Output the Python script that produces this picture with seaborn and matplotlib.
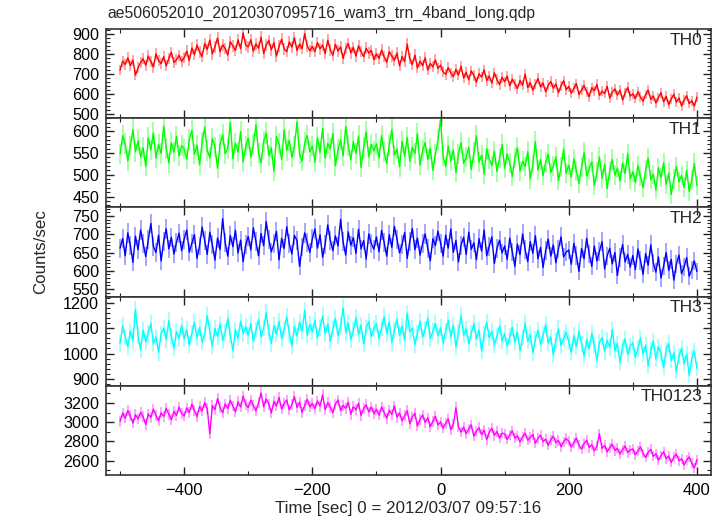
import numpy as np
import matplotlib
matplotlib.use("Agg")
import matplotlib.pyplot as plt
import seaborn as sns
from matplotlib.ticker import MultipleLocator

# light curves, 4 s samples from -500 s to +400 s
th0 = [720, 765, 748, 781, 742, 770, 695, 731, 758, 776, 744, 790, 762, 735, 801, 768, 752, 787, 741, 779, 809, 758, 772, 794, 763,
       782, 815, 768, 830, 797, 845, 810, 788, 852, 823, 870, 801, 836, 880, 812, 846, 828, 795, 862, 839, 818, 871, 827, 905, 844,
       836, 872, 815, 851, 829, 884, 803, 845, 868, 821, 857, 790, 839, 874, 826, 812, 860, 835, 881, 818, 849, 827, 902, 840, 816,
       838, 812, 857, 826, 845, 803, 869, 821, 794, 848, 815, 836, 778, 827, 852, 806, 833, 790, 841, 812, 787, 829, 805, 818, 772,
       801, 778, 820, 786, 759, 812, 790, 768, 805, 741, 787, 762, 850, 776, 748, 795, 731, 764, 742, 781, 720, 753, 736, 771, 728,
       745, 712, 698, 733, 706, 688, 724, 695, 740, 681, 709, 672, 716, 693, 660, 702, 685, 721, 668, 690, 655, 706, 673, 648, 684,
       662, 690, 641, 675, 652, 628, 668, 645, 700, 633, 657, 620, 649, 678, 636, 655, 612, 644, 663, 630, 651, 608, 640, 667, 622,
       638, 605, 629, 652, 598, 621, 643, 611, 587, 632, 617, 648, 594, 615, 603, 639, 580, 610, 626, 596, 620, 571, 607, 633, 590,
       601, 578, 612, 585, 565, 598, 620, 574, 591, 556, 583, 607, 562, 589, 548, 576, 599, 560, 581, 541, 570, 592, 553, 567, 540, 585]
th1 = [548, 590, 571, 532, 566, 604, 553, 578, 541, 562, 519, 585, 557, 596, 538, 570, 549, 612, 561, 527, 574, 552, 588, 543, 567,
       559, 536, 581, 602, 547, 568, 523, 575, 610, 556, 539, 583, 564, 515, 570, 592, 548, 561, 620, 537, 573, 552, 599, 530, 566,
       584, 541, 569, 615, 550, 527, 577, 596, 544, 562, 508, 588, 571, 535, 603, 556, 579, 540, 565, 622, 548, 531, 574, 590, 553,
       566, 529, 585, 551, 607, 538, 572, 560, 595, 521, 558, 580, 543, 611, 567, 534, 576, 549, 589, 517, 563, 598, 541, 570, 555,
       571, 538, 590, 552, 526, 568, 604, 545, 559, 518, 577, 542, 586, 531, 563, 549, 595, 522, 556, 574, 535, 561, 510, 547, 580,
       628, 543, 519, 566, 532, 557, 505, 548, 574, 526, 541, 563, 512, 551, 590, 529, 545, 502, 560, 536, 521, 554, 507, 538, 569,
       515, 548, 527, 496, 539, 562, 508, 531, 519, 553, 490, 524, 576, 511, 535, 498, 529, 547, 505, 520, 541, 486, 517, 559, 503,
       522, 494, 537, 509, 480, 518, 551, 497, 513, 530, 476, 506, 541, 492, 524, 468, 510, 535, 499, 515, 486, 527, 503, 548, 490,
       507, 482, 521, 496, 470, 512, 538, 489, 501, 465, 516, 493, 527, 478, 504, 455, 490, 519, 484, 498, 471, 510, 462, 488, 526, 475]
th2 = [662, 689, 641, 704, 670, 623, 695, 658, 712, 676, 639, 685, 730, 667, 650, 698, 627, 681, 715, 660, 692, 646, 678, 703, 655,
       687, 712, 651, 676, 699, 634, 668, 720, 683, 645, 706, 671, 629, 690, 658, 743, 677, 640, 697, 666, 711, 649, 684, 625, 672,
       694, 657, 718, 680, 641, 702, 669, 735, 686, 652, 675, 708, 630, 689, 661, 721, 674, 646, 697, 683, 612, 665, 704, 678, 650,
       688, 715, 662, 699, 637, 673, 726, 684, 655, 696, 668, 741, 679, 643, 707, 670, 691, 648, 714, 660, 683, 632, 701, 675, 659,
       693, 652, 711, 678, 640, 699, 664, 722, 687, 649, 672, 705, 634, 681, 716, 658, 690, 643, 674, 701, 662, 627, 688, 669, 709,
       676, 640, 698, 662, 715, 651, 683, 624, 670, 692, 645, 706, 659, 677, 630, 688, 654, 712, 641, 667, 693, 620, 661, 684, 649,
       668, 631, 690, 652, 612, 673, 644, 701, 659, 625, 680, 648, 696, 633, 664, 609, 655, 687, 640, 671, 622, 660, 693, 638, 651,
       657, 618, 675, 642, 598, 661, 633, 689, 646, 612, 668, 627, 653, 680, 605, 641, 662, 619, 650, 587, 636, 672, 624, 645, 610,
       642, 603, 660, 628, 590, 647, 615, 671, 622, 596, 638, 580, 612, 650, 601, 631, 574, 618, 643, 592, 610, 636, 585, 603, 627, 598]
th3 = [1040, 1110, 1065, 1028, 1089, 1052, 1175, 1071, 1015, 1093, 1047, 1082, 1120, 1038, 1066, 1004, 1078, 1101, 1055, 1130, 1069, 1021, 1087, 1060, 1112,
       1058, 1096, 1034, 1081, 1125, 1062, 1103, 1045, 1077, 1150, 1088, 1029, 1099, 1068, 1117, 1052, 1084, 1140, 1073, 1011, 1094, 1061, 1128, 1079, 1106,
       1072, 1119, 1048, 1093, 1135, 1066, 1101, 1162, 1085, 1040, 1111, 1077, 1128, 1058, 1096, 1145, 1082, 1030, 1107, 1069, 1124, 1090, 1170, 1074, 1115,
       1086, 1132, 1063, 1104, 1150, 1078, 1117, 1049, 1098, 1139, 1070, 1108, 1181, 1083, 1121, 1055, 1094, 1143, 1076, 1112, 1038, 1101, 1127, 1068, 1099,
       1118, 1060, 1103, 1146, 1079, 1125, 1044, 1092, 1137, 1071, 1109, 1052, 1160, 1086, 1100, 1035, 1081, 1128, 1065, 1097, 1140, 1058, 1088, 1119, 1070,
       1102, 1043, 1090, 1131, 1066, 1112, 1027, 1084, 1150, 1073, 1097, 1038, 1081, 1118, 1057, 1093, 1010, 1076, 1125, 1062, 1088, 1034, 1070, 1109, 1051,
       1079, 1028, 1068, 1104, 1045, 1087, 1011, 1062, 1120, 1049, 1075, 1003, 1058, 1093, 1037, 1071, 1115, 1042, 1066, 995, 1054, 1098, 1031, 1060, 1085,
       1047, 1005, 1071, 1028, 1089, 1038, 990, 1056, 1019, 1080, 1033, 972, 1045, 1063, 1008, 1052, 1024, 1095, 1011, 1039, 965, 1027, 1058, 996, 1030,
       1042, 985, 1020, 1061, 998, 1033, 950, 1012, 1050, 979, 1026, 1002, 944, 1015, 1040, 972, 1003, 928, 990, 1021, 960, 998, 915, 981, 1010, 940]
th0123 = [3010, 3095, 3042, 3121, 3067, 2990, 3078, 3035, 3103, 3058, 2975, 3086, 3049, 3137, 3072, 3015, 3098, 3061, 3144, 3083, 3026, 3112, 3070, 3158, 3091,
          3065, 3148, 3102, 3189, 3124, 3057, 3163, 3118, 3205, 3140, 2880, 3172, 3131, 3246, 3154, 3098, 3190, 3143, 3228, 3169, 3107, 3212, 3158, 3271, 3186,
          3152, 3230, 3174, 3118, 3203, 3305, 3161, 3244, 3189, 3096, 3216, 3170, 3258, 3137, 3197, 3232, 3128, 3183, 3267, 3155, 3209, 3102, 3176, 3238, 3160,
          3195, 3142, 3221, 3168, 3286, 3130, 3204, 3157, 3099, 3188, 3232, 3121, 3176, 3145, 3210, 3083, 3163, 3129, 3197, 3072, 3144, 3181, 3108, 3159, 3090,
          3136, 3074, 3158, 3102, 3041, 3125, 3083, 3170, 3052, 3097, 3015, 3068, 3119, 2985, 3056, 3093, 2960, 3031, 3075, 2998, 3046, 2952, 3010, 3062, 2971,
          3004, 2938, 2989, 3034, 2921, 2976, 3150, 2952, 2897, 2948, 2880, 2931, 2972, 2854, 2906, 2943, 2871, 2917, 2820, 2893, 2938, 2862, 2904, 2835, 2886,
          2878, 2821, 2869, 2910, 2834, 2857, 2795, 2848, 2886, 2812, 2840, 2873, 2780, 2831, 2866, 2798, 2824, 2760, 2818, 2855, 2787, 2810, 2745, 2796, 2830,
          2801, 2742, 2786, 2835, 2759, 2720, 2778, 2812, 2736, 2765, 2702, 2749, 2880, 2727, 2758, 2691, 2736, 2770, 2705, 2728, 2668, 2714, 2752, 2683, 2709,
          2722, 2660, 2701, 2743, 2674, 2632, 2688, 2718, 2645, 2671, 2605, 2653, 2692, 2620, 2648, 2580, 2635, 2668, 2597, 2619, 2555, 2606, 2638, 2575, 2524, 2610]

bands = ["TH0", "TH1", "TH2", "TH3", "TH0123"]
series = [th0, th1, th2, th3, th0123]
colors = ["#ff0000", "#00ff00", "#0000ff", "#00ffff", "#ff00ff"]
ylims = [(480, 925), (425, 630), (529, 774), (872, 1226), (2450, 3380)]
majors = [100, 50, 50, 100, 200]
minors = [20, 10, 10, 20, 100]

sns.set_style("ticks")
plt.rcParams['font.family'] = ['Liberation Sans', 'DejaVu Sans']
plt.rcParams['font.size'] = 12

fig = plt.figure(figsize=(7.23, 5.16), dpi=100)
left, right, bottom, top = 0.1466, 0.9834, 0.0795, 0.9438
h = (top - bottom) / 5
axes = []
for i in range(5):
    ax = fig.add_axes([left, top - (i + 1) * h, right - left, h])
    axes.append(ax)

for i, ax in enumerate(axes):
    y = np.array(series[i], dtype=float)
    t = np.linspace(-500, 400, len(y))
    err = np.sqrt(y)
    ax.vlines(t, y - err, y + err, color=colors[i], alpha=0.45, lw=1.1)
    sns.lineplot(x=t, y=y, ax=ax, color=colors[i], lw=1.0)
    ax.set_xlim(-522, 422)
    ax.set_ylim(*ylims[i])
    ax.xaxis.set_major_locator(MultipleLocator(200))
    ax.xaxis.set_minor_locator(MultipleLocator(100))
    ax.yaxis.set_major_locator(MultipleLocator(majors[i]))
    ax.yaxis.set_minor_locator(MultipleLocator(minors[i]))
    ax.tick_params(which='both', direction='in', top=True, right=True, colors='#222222', labelcolor='black')
    ax.tick_params(axis='y', labelsize=11.6, pad=5)
    ax.tick_params(axis='x', labelsize=12, pad=6)
    ax.tick_params(which='major', length=6, width=1)
    ax.tick_params(which='minor', length=3, width=0.8)
    for s in ax.spines.values():
        s.set_linewidth(1.2)
        s.set_color('#333333')
    ax.set_ylabel("")
    ax.text(0.985, 0.96, bands[i], transform=ax.transAxes, ha='right', va='top', fontsize=12.5)
    if i < 4:
        ax.tick_params(axis='x', labelbottom=False)

axes[-1].set_xlabel("Time [sec] 0 = 2012/03/07 09:57:16", fontsize=12.2, labelpad=2)
fig.text(0.056, (top + bottom) / 2, "Counts/sec", rotation=90, ha='center', va='center', fontsize=12.2)
fig.text(left + 0.002, 0.966, "ae506052010_20120307095716_wam3_trn_4band_long.qdp", ha='left', va='baseline', fontsize=11.3)

fig.savefig("out.png", dpi=100)
